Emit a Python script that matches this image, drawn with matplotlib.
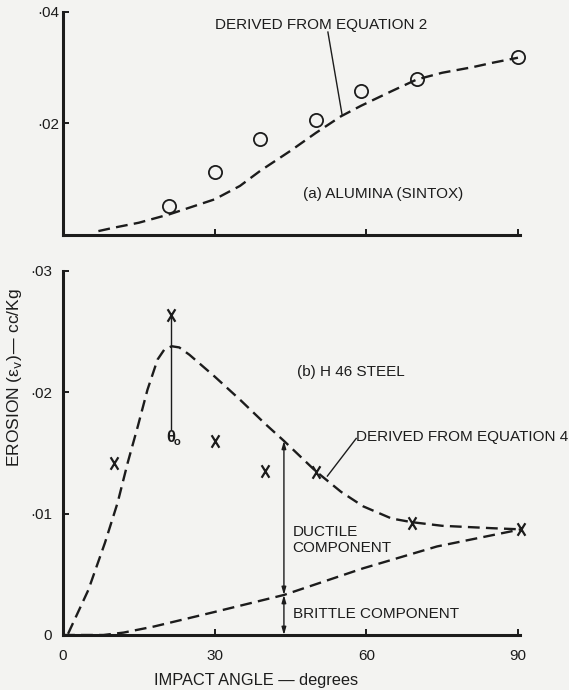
import numpy as np
import matplotlib
matplotlib.use("Agg")
import matplotlib.pyplot as plt
from matplotlib.path import Path

# ---------------- data ----------------
# (a) Alumina (Sintox): measured points (circles)
alumina_angle = [21, 30, 39, 50, 59, 70, 90]
alumina_erosion = [0.0052, 0.0113, 0.0173, 0.0207, 0.0259, 0.0279, 0.0319]

# (a) curve derived from equation 2
eq2_angle = [7, 10, 15, 21, 25, 30, 35, 39, 45, 50, 55, 59, 65, 70, 75, 81, 85, 90]
eq2_erosion = [0.0007, 0.0013, 0.0022, 0.0037, 0.0049, 0.0064, 0.0088, 0.0115,
               0.0151, 0.0183, 0.0213, 0.0232, 0.0258, 0.0279, 0.0291, 0.0301,
               0.0309, 0.0318]

# (b) H46 steel: measured points (X)
steel_angle = [10, 21.3, 30, 40, 50, 69, 90.5]
steel_erosion = [0.0142, 0.0264, 0.0160, 0.0135, 0.0134, 0.0092, 0.0087]

# (b) curve derived from equation 4
eq4_angle = [1, 5, 8.3, 10.8, 12.8, 14.8, 16.7, 18.7, 20, 21.5, 23, 25, 30, 35,
             40, 43.7, 50, 55, 59.4, 65, 69, 75, 80, 85, 91]
eq4_erosion = [0.0001, 0.0037, 0.0076, 0.0109, 0.0142, 0.0172, 0.0202, 0.0227,
               0.0235, 0.0238, 0.0237, 0.0231, 0.0213, 0.0194, 0.0174, 0.0160,
               0.0135, 0.0118, 0.0106, 0.0096, 0.0093, 0.0090, 0.0089, 0.0088,
               0.0087]

# (b) brittle component
brittle_angle = [0, 8, 12, 18, 30, 43.7, 59.4, 74, 90.5]
brittle_erosion = [0.0, 0.0, 0.0002, 0.0007, 0.0019, 0.0033, 0.0055, 0.0073, 0.0087]

theta0 = 21.3          # angle of maximum erosion
component_angle = 43.7  # where ductile / brittle components are marked

top_yticks = [0.02, 0.04]
top_yticklabels = ["·02", "·04"]
bot_yticks = [0, 0.01, 0.02, 0.03]
bot_yticklabels = ["0", "·01", "·02", "·03"]
xticks = [30, 60, 90]
bot_xticks = [0, 30, 60, 90]
bot_xticklabels = ["0", "30", "60", "90"]

# ---------------- style ----------------
INK = "#1c1c1c"
BG = "#f3f3f1"
plt.rcParams["font.family"] = ["Liberation Sans", "DejaVu Sans"]
plt.rcParams["lines.scale_dashes"] = False
FS = 11
DASH = (8.5, 4.5)

# narrow letter-like X marker
X_MARK = Path([(-0.62, -1), (0.62, 1), (-0.62, 1), (0.62, -1)],
              [Path.MOVETO, Path.LINETO, Path.MOVETO, Path.LINETO])

W, H = 569, 690
fig = plt.figure(figsize=(W / 100, H / 100), dpi=100, facecolor=BG)

def px_axes(left, top, right, bottom):
    return fig.add_axes([left / W, 1 - bottom / H, (right - left) / W, (bottom - top) / H])

ax1 = px_axes(63, 12, 520, 235)
ax2 = px_axes(63, 271, 520, 635)

for ax in (ax1, ax2):
    ax.set_facecolor(BG)
    for s in ("top", "right"):
        ax.spines[s].set_visible(False)
    for s in ("left", "bottom"):
        ax.spines[s].set_linewidth(2.2)
        ax.spines[s].set_color(INK)
        ax.spines[s].set_capstyle("projecting")
    ax.tick_params(direction="in", length=4, width=1.4, colors=INK, labelsize=FS)
    ax.set_xlim(0, 90.4)

# ---------- top panel ----------
ax1.set_ylim(0, 0.04)
ax1.set_yticks(top_yticks)
ax1.set_yticklabels(top_yticklabels)
ax1.set_xticks(xticks)
ax1.set_xticklabels([])
ax1.tick_params(axis="y", pad=3)
ax1.plot(eq2_angle, eq2_erosion, color=INK, lw=1.7, dashes=DASH, clip_on=False)
ax1.plot(alumina_angle, alumina_erosion, ls="none", marker="o", ms=9.5,
         mfc="none", mec=INK, mew=1.3, clip_on=False)
ax1.text(30.1, 0.0376, "DERIVED FROM EQUATION 2", fontsize=FS, color=INK,
         ha="left", va="center")
ax1.plot([52.4, 55.2], [0.0364, 0.0216], color=INK, lw=1.0)
ax1.text(47.4, 0.0074, "(a) ALUMINA (SINTOX)", fontsize=FS, color=INK,
         ha="left", va="center")

# ---------- bottom panel ----------
ax2.set_ylim(0, 0.03)
ax2.set_yticks(bot_yticks)
ax2.set_yticklabels(bot_yticklabels)
ax2.set_xticks(bot_xticks)
ax2.set_xticklabels(bot_xticklabels)
ax2.tick_params(axis="y", pad=8)
ax2.tick_params(axis="x", pad=10)
ax2.xaxis.get_major_ticks()[0].tick1line.set_visible(False)
ax2.yaxis.get_major_ticks()[0].tick1line.set_visible(False)

ax2.plot(eq4_angle, eq4_erosion, color=INK, lw=1.7, dashes=DASH, clip_on=False)
ax2.plot(brittle_angle, brittle_erosion, color=INK, lw=1.7, dashes=DASH, clip_on=False)
ax2.plot(steel_angle, steel_erosion, ls="none", marker=X_MARK, ms=9, mew=1.6,
         color=INK, clip_on=False)

# theta0 marker line
ax2.plot([theta0, theta0], [steel_erosion[1], 0.0170], color=INK, lw=1.0)
ax2.text(theta0, 0.0163, "θ", fontsize=12, color=INK, ha="center", va="center",
         fontweight="bold")
ax2.text(theta0 + 1.3, 0.0159, "o", fontsize=8, color=INK, ha="center", va="center",
         fontweight="bold")

# component arrows
duct_top = float(np.interp(component_angle, eq4_angle, eq4_erosion))
brit_top = float(np.interp(component_angle, brittle_angle, brittle_erosion))
astyle = "<|-|>,head_length=0.45,head_width=0.13"
ax2.annotate("", xy=(component_angle, duct_top), xytext=(component_angle, brit_top),
             arrowprops=dict(arrowstyle=astyle, color=INK, lw=1.0,
                             shrinkA=0, shrinkB=0))
ax2.annotate("", xy=(component_angle, brit_top), xytext=(component_angle, 0),
             arrowprops=dict(arrowstyle=astyle, color=INK, lw=1.0,
                             shrinkA=0, shrinkB=0))

ax2.text(46.3, 0.0217, "(b) H 46 STEEL", fontsize=FS, color=INK, ha="left", va="center")
ax2.text(57.9, 0.0163, "DERIVED FROM EQUATION 4", fontsize=FS, color=INK,
         ha="left", va="center")
ax2.plot([52.3, 58.0], [0.0131, 0.0162], color=INK, lw=1.0)
ax2.text(45.4, 0.0085, "DUCTILE", fontsize=FS, color=INK, ha="left", va="center")
ax2.text(45.4, 0.0072, "COMPONENT", fontsize=FS, color=INK, ha="left", va="center")
ax2.text(45.4, 0.0017, "BRITTLE COMPONENT", fontsize=FS, color=INK, ha="left", va="center")

fig.text(256 / W, 1 - 680 / H, "IMPACT ANGLE — degrees", fontsize=11.8, color=INK,
         ha="center", va="center")
fig.text(15 / W, 1 - 378 / H, r"EROSION (ε$_{\mathrm{v}}$)— cc/Kg", fontsize=12.5,
         color=INK, ha="center", va="center", rotation=90)

fig.savefig("out.png", dpi=100, facecolor=BG)
